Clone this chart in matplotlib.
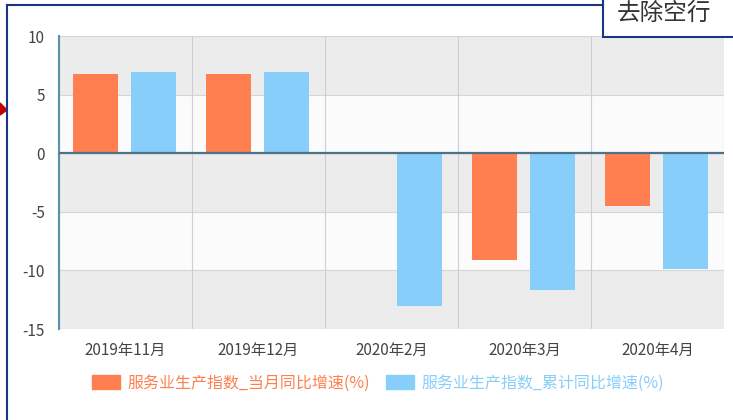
import numpy as np
import matplotlib
matplotlib.use('Agg')
import matplotlib.pyplot as plt
from matplotlib.patches import Rectangle, Polygon, FancyBboxPatch
from matplotlib.lines import Line2D

plt.rcParams['font.family'] = ['Noto Sans CJK SC', 'DejaVu Sans']
plt.rcParams['axes.unicode_minus'] = False

# 數據
months = ['2019年11月', '2019年12月', '2020年2月', '2020年3月', '2020年4月']
monthly = [6.8, 6.8, np.nan, -9.1, -4.5]
cumulative = [6.9, 6.9, -13.0, -11.7, -9.9]
series_names = ['服务业生产指数_当月同比增速(%)', '服务业生产指数_累计同比增速(%)']
yticks = [10, 5, 0, -5, -10, -15]

c_orange = '#ff7f50'
c_blue = '#87cefa'

W, H = 733, 420
fig = plt.figure(figsize=(W / 100, H / 100), dpi=100)
fig.patch.set_facecolor('white')
ax = fig.add_axes([59 / W, 1 - 329 / H, (724 - 59) / W, (329 - 36) / H])

# 背景條紋
ax.set_ylim(-15, 10)
ax.set_xlim(-0.5, len(months) - 0.5)
for i, (lo, hi) in enumerate(zip(yticks[1:], yticks[:-1])):
    ax.axhspan(lo, hi, color='#ececec' if i % 2 == 0 else '#fbfbfb', zorder=0, lw=0)
for y in yticks:
    ax.axhline(y, color='#d6d6d6', lw=0.8, zorder=1)
for xb in np.arange(-0.5, len(months), 1):
    ax.axvline(xb, color='#cfcfcf', lw=0.8, zorder=1)

x = np.arange(len(months))
w = 0.34
ax.bar(x - 0.225, monthly, w, color=c_orange, zorder=2)
ax.bar(x + 0.21, cumulative, w, color=c_blue, zorder=2)
ax.axhline(0, color='#4d7187', lw=1.6, zorder=3)

ax.set_yticks(yticks)
ax.set_yticklabels([str(v) for v in yticks])
ax.set_xticks(x)
ax.set_xticklabels(months)
ax.tick_params(axis='both', length=0, labelsize=11, colors='#444444')
ax.tick_params(axis='x', pad=9)
ax.tick_params(axis='y', pad=10)
for s in ['top', 'right', 'bottom']:
    ax.spines[s].set_visible(False)
ax.spines['left'].set_color('#5b8fae')
ax.spines['left'].set_linewidth(1.5)

# 圖例
handles = [FancyBboxPatch((0, 0), 1, 1, boxstyle='round,pad=0.1', color=c) for c in [c_orange, c_blue]]
leg = fig.legend(handles, series_names, loc='center', ncol=2,
                 bbox_to_anchor=(378 / W, 1 - 383 / H), frameon=False,
                 fontsize=11.5, handlelength=1.75, handleheight=1.0,
                 handletextpad=0.45, columnspacing=1.0)
for t, c in zip(leg.get_texts(), [c_orange, c_blue]):
    t.set_color(c)

# 截圖外框
navy = '#1c3580'
fig.add_artist(Line2D([7 / W, 7 / W], [0, 1 - 5 / H], color=navy, lw=1.5))
fig.add_artist(Line2D([7 / W, 603 / W], [1 - 5 / H, 1 - 5 / H], color=navy, lw=1.5))
fig.add_artist(Rectangle((603 / W, 1 - 37 / H), 140 / W, 45 / H, transform=fig.transFigure,
                         facecolor='white', edgecolor=navy, lw=1.5))
fig.text(617 / W, 1 - 13 / H, '去除空行', fontsize=17, color='#333333', va='center')
fig.add_artist(Polygon([[0, 1 - 103 / H], [7 / W, 1 - 110 / H], [0, 1 - 115 / H]],
                       closed=True, transform=fig.transFigure, color='#c00000'))

plt.savefig('out.png', dpi=100)
